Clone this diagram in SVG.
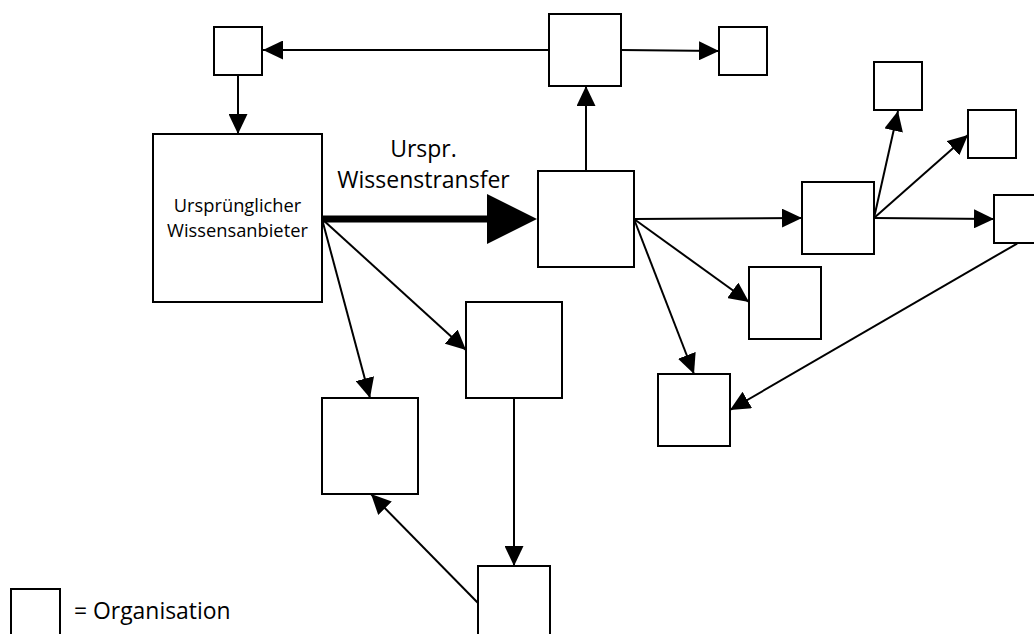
<svg xmlns="http://www.w3.org/2000/svg" width="1034" height="634" viewBox="0 0 1034 634">
<defs>
<style>
.box{fill:#fff;stroke:#000;stroke-width:2}
.c{fill:none;stroke:#000;stroke-width:2}
.t{font-family:"Open Sans","Liberation Sans",sans-serif;fill:#000}
</style>
<marker id="ah" markerUnits="userSpaceOnUse" markerWidth="20" markerHeight="19" refX="20" refY="9.5" orient="auto" viewBox="0 0 20 19">
<path d="M0,0 L20,9.5 L0,19 z" fill="#000"/>
</marker>
<marker id="big" markerUnits="userSpaceOnUse" markerWidth="50" markerHeight="50" refX="3" refY="25" orient="auto" viewBox="0 0 50 50">
<path d="M0,0 L50,25 L0,50 z" fill="#000"/>
</marker>
</defs>
<rect width="1034" height="634" fill="#fff"/>
<g id="connectors">
<line class="c" x1="549" y1="50" x2="263" y2="50" marker-end="url(#ah)"/>
<line class="c" x1="621" y1="50" x2="719" y2="51" marker-end="url(#ah)"/>
<line class="c" x1="238" y1="75" x2="238" y2="134" marker-end="url(#ah)"/>
<line class="c" x1="586" y1="171" x2="586" y2="86" marker-end="url(#ah)"/>
<line fill="none" stroke="#000" stroke-width="7" x1="322" y1="219" x2="490" y2="219" marker-end="url(#big)"/>
<line class="c" x1="634" y1="219" x2="802" y2="218" marker-end="url(#ah)"/>
<line class="c" x1="634" y1="219" x2="749" y2="302" marker-end="url(#ah)"/>
<line class="c" x1="634" y1="219" x2="694" y2="374" marker-end="url(#ah)"/>
<line class="c" x1="874" y1="218" x2="898" y2="111" marker-end="url(#ah)"/>
<line class="c" x1="874" y1="218" x2="968" y2="135" marker-end="url(#ah)"/>
<line class="c" x1="874" y1="218" x2="994" y2="219" marker-end="url(#ah)"/>
<line class="c" x1="1018" y1="243" x2="730" y2="410" marker-end="url(#ah)"/>
<line class="c" x1="322" y1="219" x2="466" y2="350" marker-end="url(#ah)"/>
<line class="c" x1="322" y1="219" x2="370" y2="398" marker-end="url(#ah)"/>
<line class="c" x1="514" y1="398" x2="514" y2="566" marker-end="url(#ah)"/>
<line class="c" x1="478" y1="603" x2="371" y2="494" marker-end="url(#ah)"/>
</g>
<g id="n-topleft"><rect class="box" x="214" y="27" width="48" height="48"/></g>
<g id="n-topcenter"><rect class="box" x="549" y="14" width="72" height="72"/></g>
<g id="n-topright"><rect class="box" x="719" y="27" width="48" height="48"/></g>
<g id="n-origin">
<rect class="box" x="153" y="134" width="169" height="168"/>
<text class="t" x="237.5" y="212" font-size="18.3" text-anchor="middle">Ursprünglicher</text>
<text class="t" x="237.5" y="237" font-size="18.3" text-anchor="middle">Wissensanbieter</text>
</g>
<g id="n-center"><rect class="box" x="538" y="171" width="96" height="96"/></g>
<g id="n-mid"><rect class="box" x="802" y="182" width="72" height="72"/></g>
<g id="n-r1"><rect class="box" x="874" y="62" width="48" height="48"/></g>
<g id="n-r2"><rect class="box" x="968" y="110" width="48" height="48"/></g>
<g id="n-r3"><rect class="box" x="994" y="195" width="48" height="48"/></g>
<g id="n-e"><rect class="box" x="749" y="267" width="72" height="72"/></g>
<g id="n-d"><rect class="box" x="658" y="374" width="72" height="72"/></g>
<g id="n-b"><rect class="box" x="466" y="302" width="96" height="96"/></g>
<g id="n-a"><rect class="box" x="322" y="398" width="96" height="96"/></g>
<g id="n-c"><rect class="box" x="478" y="566" width="72" height="72"/></g>
<g id="label">
<text class="t" x="423.5" y="157" font-size="23" text-anchor="middle">Urspr.</text>
<text class="t" x="423.5" y="188" font-size="23" text-anchor="middle">Wissenstransfer</text>
</g>
<g id="legend">
<rect class="box" x="11" y="589" width="49" height="50"/>
<text class="t" x="74" y="619" font-size="22.9">= Organisation</text>
</g>
</svg>
